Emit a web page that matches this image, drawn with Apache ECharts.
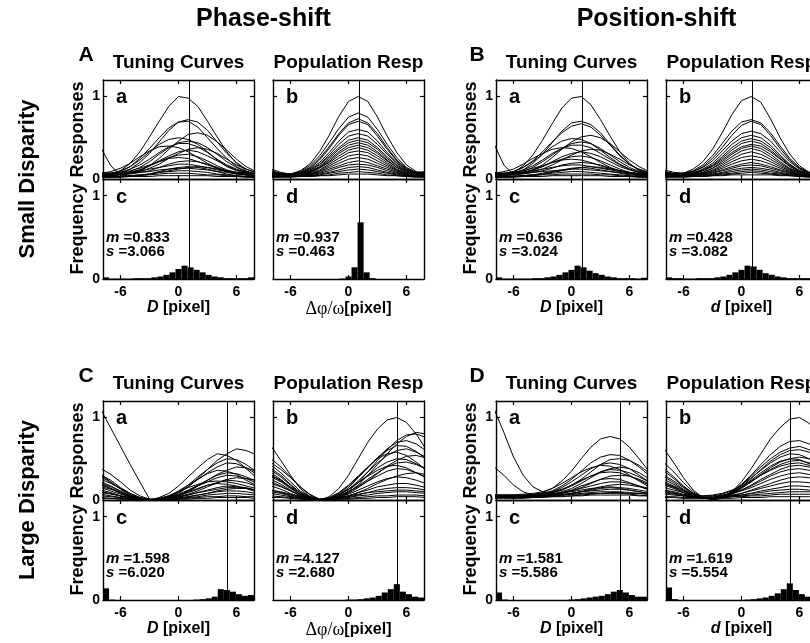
<!DOCTYPE html>
<html>
<head>
<meta charset="utf-8">
<title>Phase-shift vs Position-shift disparity</title>
<script src="https://cdn.jsdelivr.net/npm/echarts@6.0.0/dist/echarts.min.js"></script>
<style>
  html, body { margin: 0; padding: 0; background: #fff; }
  #chart { width: 810px; height: 643px; }
</style>
</head>
<body>
<div id="chart"></div>
<script>
// disparity positions where the curves are sampled [pixel]
const samplePos = [-8, -7, -6, -5, -4, -3, -2, -1, 0, 1, 2, 3, 4, 5, 6, 7, 8];
// histogram bin centres, bin width 0.625 pixel
const binCenters = [-7.5, -6.875, -6.25, -5.625, -5, -4.375, -3.75, -3.125, -2.5, -1.875, -1.25, -0.625,
  0, 0.625, 1.25, 1.875, 2.5, 3.125, 3.75, 4.375, 5, 5.625, 6.25, 6.875, 7.5];
const xTicks = [-6, 0, 6];
const yTicks = [0, 1];
const trueDisparity = [1.1, 5];

const groupTitles = ['Phase-shift', 'Position-shift'];
const rowTitles = ['Small Disparity', 'Large Disparity'];
const panelLetters = [['A', 'B'], ['C', 'D']];
const colTitles = ['Tuning Curves', 'Population Resp', 'Tuning Curves', 'Population Resp'];
const xNames = ['{i|D} [pixel]', '{g|\u0394\u03c6/\u03c9}[pixel]', '{i|D} [pixel]', '{i|d} [pixel]'];
const statM = [['0.833', '0.937', '0.636', '0.428'], ['1.598', '4.127', '1.581', '1.619']];
const statS = [['3.066', '0.463', '3.024', '3.082'], ['6.020', '2.680', '5.586', '5.554']];

// ---- small disparity ----
const phaseSmallTuning = [
  [0.03,0.05,0.1,0.19,0.33,0.51,0.7,0.88,1.0,0.98,0.88,0.7,0.51,0.33,0.19,0.1,0.05],
  [0.04,0.05,0.07,0.12,0.2,0.31,0.45,0.59,0.69,0.72,0.69,0.59,0.45,0.31,0.2,0.12,0.07],
  [0.05,0.06,0.09,0.15,0.25,0.37,0.5,0.62,0.69,0.7,0.63,0.5,0.37,0.25,0.15,0.09,0.06],
  [0.04,0.04,0.05,0.07,0.1,0.16,0.25,0.36,0.46,0.54,0.56,0.53,0.45,0.35,0.24,0.15,0.09],
  [0.06,0.07,0.1,0.15,0.23,0.33,0.42,0.48,0.5,0.48,0.42,0.33,0.23,0.15,0.1,0.07,0.05],
  [0.03,0.04,0.06,0.09,0.14,0.21,0.3,0.38,0.44,0.46,0.44,0.38,0.3,0.21,0.14,0.09,0.06],
  [0.05,0.06,0.08,0.12,0.17,0.24,0.32,0.39,0.43,0.43,0.39,0.32,0.24,0.17,0.12,0.08,0.06],
  [0.07,0.09,0.13,0.19,0.27,0.34,0.39,0.4,0.38,0.33,0.26,0.19,0.13,0.09,0.06,0.05,0.04],
  [0.05,0.05,0.06,0.07,0.09,0.13,0.18,0.25,0.31,0.36,0.38,0.36,0.31,0.24,0.17,0.12,0.08],
  [0.04,0.05,0.06,0.08,0.11,0.16,0.22,0.28,0.33,0.35,0.33,0.28,0.22,0.16,0.11,0.08,0.06],
  [0.05,0.05,0.06,0.08,0.11,0.16,0.21,0.26,0.29,0.3,0.27,0.22,0.16,0.11,0.08,0.06,0.05],
  [0.06,0.07,0.08,0.1,0.13,0.17,0.21,0.25,0.26,0.25,0.21,0.17,0.13,0.1,0.08,0.06,0.05],
  [0.04,0.04,0.05,0.06,0.08,0.1,0.14,0.18,0.21,0.22,0.21,0.18,0.14,0.1,0.07,0.05,0.04],
  [0.08,0.07,0.07,0.08,0.1,0.12,0.14,0.16,0.18,0.18,0.16,0.14,0.11,0.09,0.08,0.07,0.07],
  [0.03,0.03,0.03,0.04,0.05,0.06,0.08,0.1,0.12,0.14,0.15,0.14,0.12,0.1,0.07,0.05,0.04],
  [0.05,0.05,0.06,0.07,0.08,0.09,0.11,0.12,0.13,0.13,0.12,0.11,0.09,0.08,0.06,0.05,0.05],
  [0.02,0.02,0.03,0.04,0.05,0.06,0.08,0.09,0.1,0.1,0.09,0.08,0.06,0.05,0.04,0.03,0.02],
  [0.03,0.03,0.03,0.04,0.04,0.05,0.06,0.07,0.07,0.07,0.06,0.05,0.05,0.04,0.03,0.03,0.03],
  [0.37,0.16,0.05,0.03,0.04,0.06,0.09,0.12,0.14,0.15,0.14,0.12,0.09,0.06,0.04,0.03,0.03],
  [0.02,0.02,0.02,0.03,0.03,0.03,0.04,0.04,0.04,0.04,0.04,0.04,0.03,0.03,0.03,0.02,0.02]
];
const phaseSmallPop = [
  [0.06,0.05,0.06,0.1,0.18,0.33,0.53,0.76,0.94,1.0,0.94,0.75,0.52,0.32,0.17,0.09,0.06],
  [0.08,0.06,0.06,0.09,0.16,0.28,0.44,0.61,0.75,0.8,0.75,0.6,0.42,0.26,0.14,0.08,0.06],
  [0.05,0.04,0.05,0.08,0.14,0.25,0.39,0.55,0.68,0.73,0.68,0.55,0.38,0.23,0.13,0.07,0.05],
  [0.1,0.07,0.06,0.08,0.13,0.23,0.37,0.53,0.66,0.7,0.66,0.52,0.36,0.22,0.12,0.08,0.08],
  [0.06,0.05,0.05,0.07,0.12,0.2,0.32,0.46,0.57,0.6,0.57,0.46,0.32,0.2,0.11,0.07,0.06],
  [0.12,0.08,0.06,0.07,0.11,0.18,0.29,0.42,0.52,0.55,0.52,0.42,0.3,0.19,0.11,0.08,0.09],
  [0.05,0.04,0.04,0.06,0.1,0.17,0.27,0.38,0.47,0.5,0.47,0.38,0.27,0.17,0.1,0.06,0.05],
  [0.07,0.05,0.05,0.06,0.09,0.15,0.25,0.36,0.44,0.47,0.44,0.36,0.25,0.16,0.09,0.06,0.06],
  [0.04,0.04,0.04,0.05,0.09,0.14,0.23,0.33,0.41,0.44,0.41,0.33,0.23,0.14,0.08,0.05,0.04],
  [0.09,0.06,0.05,0.06,0.08,0.14,0.21,0.31,0.38,0.41,0.38,0.31,0.22,0.14,0.09,0.07,0.07],
  [0.05,0.04,0.04,0.05,0.08,0.13,0.2,0.28,0.35,0.38,0.35,0.28,0.2,0.12,0.07,0.05,0.05],
  [0.06,0.05,0.04,0.05,0.07,0.11,0.18,0.25,0.32,0.34,0.32,0.25,0.18,0.11,0.07,0.05,0.05],
  [0.04,0.03,0.03,0.04,0.06,0.1,0.16,0.22,0.28,0.3,0.28,0.22,0.16,0.1,0.06,0.04,0.04],
  [0.08,0.06,0.05,0.05,0.06,0.09,0.14,0.19,0.24,0.26,0.24,0.19,0.14,0.09,0.06,0.05,0.06],
  [0.03,0.03,0.03,0.04,0.05,0.08,0.12,0.16,0.2,0.22,0.2,0.16,0.12,0.08,0.05,0.04,0.03],
  [0.05,0.04,0.04,0.04,0.05,0.07,0.1,0.14,0.17,0.18,0.17,0.14,0.1,0.07,0.05,0.04,0.04],
  [0.03,0.03,0.03,0.03,0.04,0.06,0.08,0.11,0.14,0.15,0.14,0.11,0.08,0.06,0.04,0.03,0.03],
  [0.06,0.05,0.04,0.04,0.04,0.05,0.07,0.09,0.11,0.12,0.11,0.09,0.07,0.05,0.04,0.04,0.05],
  [0.02,0.02,0.02,0.03,0.03,0.04,0.05,0.07,0.08,0.09,0.08,0.07,0.05,0.04,0.03,0.02,0.02],
  [0.03,0.03,0.03,0.03,0.03,0.04,0.04,0.05,0.06,0.06,0.06,0.05,0.04,0.04,0.03,0.03,0.03]
];
const posSmallTuning = [
  [0.03,0.04,0.08,0.16,0.29,0.47,0.67,0.86,0.98,1.0,0.9,0.72,0.52,0.33,0.19,0.1,0.05],
  [0.04,0.05,0.07,0.11,0.19,0.3,0.44,0.58,0.68,0.7,0.66,0.56,0.42,0.29,0.18,0.11,0.07],
  [0.05,0.06,0.09,0.14,0.22,0.33,0.45,0.56,0.64,0.67,0.63,0.53,0.41,0.28,0.18,0.11,0.07],
  [0.04,0.04,0.05,0.07,0.11,0.17,0.26,0.36,0.45,0.51,0.53,0.5,0.43,0.33,0.23,0.15,0.09],
  [0.06,0.07,0.09,0.14,0.21,0.3,0.39,0.46,0.49,0.48,0.43,0.35,0.26,0.18,0.12,0.08,0.06],
  [0.03,0.04,0.06,0.09,0.14,0.21,0.29,0.37,0.43,0.45,0.43,0.37,0.29,0.21,0.14,0.09,0.06],
  [0.05,0.06,0.08,0.11,0.16,0.23,0.31,0.37,0.41,0.41,0.38,0.31,0.24,0.17,0.12,0.08,0.06],
  [0.07,0.09,0.12,0.18,0.25,0.31,0.36,0.38,0.37,0.33,0.27,0.2,0.14,0.1,0.07,0.05,0.04],
  [0.05,0.05,0.06,0.07,0.09,0.12,0.17,0.23,0.29,0.34,0.36,0.35,0.3,0.24,0.17,0.12,0.08],
  [0.04,0.05,0.06,0.08,0.11,0.15,0.21,0.27,0.31,0.33,0.31,0.27,0.21,0.15,0.11,0.08,0.06],
  [0.05,0.05,0.06,0.08,0.11,0.15,0.2,0.24,0.27,0.28,0.26,0.22,0.17,0.12,0.08,0.06,0.05],
  [0.06,0.07,0.08,0.1,0.13,0.16,0.2,0.23,0.24,0.23,0.2,0.16,0.13,0.1,0.08,0.06,0.05],
  [0.04,0.04,0.05,0.06,0.08,0.1,0.13,0.17,0.19,0.2,0.19,0.17,0.13,0.1,0.07,0.05,0.04],
  [0.08,0.07,0.07,0.08,0.1,0.12,0.14,0.16,0.17,0.17,0.15,0.13,0.11,0.09,0.08,0.07,0.07],
  [0.03,0.03,0.03,0.04,0.05,0.06,0.08,0.1,0.12,0.14,0.15,0.14,0.12,0.1,0.07,0.05,0.04],
  [0.05,0.05,0.06,0.07,0.08,0.09,0.1,0.11,0.12,0.12,0.11,0.1,0.09,0.08,0.06,0.05,0.05],
  [0.02,0.02,0.03,0.04,0.05,0.06,0.07,0.08,0.09,0.09,0.08,0.07,0.06,0.05,0.04,0.03,0.02],
  [0.03,0.03,0.03,0.04,0.04,0.05,0.05,0.06,0.06,0.06,0.06,0.05,0.05,0.04,0.03,0.03,0.03],
  [0.42,0.17,0.05,0.04,0.05,0.07,0.09,0.11,0.13,0.14,0.13,0.11,0.09,0.07,0.05,0.04,0.03],
  [0.02,0.02,0.02,0.03,0.03,0.03,0.04,0.04,0.04,0.04,0.04,0.04,0.03,0.03,0.03,0.02,0.02]
];
const posSmallPop = [
  [0.05,0.05,0.07,0.12,0.21,0.36,0.56,0.78,0.95,1.0,0.93,0.73,0.5,0.3,0.16,0.08,0.05],
  [0.07,0.06,0.07,0.1,0.17,0.28,0.43,0.58,0.69,0.72,0.68,0.56,0.4,0.25,0.14,0.08,0.06],
  [0.05,0.05,0.06,0.09,0.15,0.25,0.38,0.53,0.65,0.7,0.66,0.53,0.37,0.23,0.13,0.07,0.05],
  [0.09,0.07,0.07,0.09,0.14,0.22,0.34,0.46,0.55,0.58,0.55,0.46,0.33,0.21,0.12,0.08,0.07],
  [0.06,0.05,0.05,0.07,0.12,0.19,0.3,0.42,0.5,0.53,0.5,0.41,0.29,0.18,0.1,0.06,0.05],
  [0.11,0.08,0.07,0.08,0.11,0.17,0.27,0.38,0.46,0.49,0.46,0.38,0.27,0.17,0.1,0.08,0.08],
  [0.05,0.04,0.04,0.06,0.1,0.16,0.25,0.35,0.43,0.46,0.43,0.35,0.25,0.16,0.09,0.05,0.04],
  [0.07,0.06,0.06,0.07,0.1,0.15,0.23,0.32,0.39,0.42,0.4,0.33,0.24,0.15,0.09,0.06,0.06],
  [0.04,0.04,0.04,0.05,0.08,0.13,0.21,0.3,0.37,0.4,0.37,0.3,0.21,0.13,0.08,0.05,0.04],
  [0.09,0.06,0.05,0.06,0.08,0.13,0.19,0.27,0.34,0.37,0.34,0.27,0.19,0.12,0.08,0.06,0.07],
  [0.05,0.04,0.04,0.05,0.07,0.11,0.17,0.24,0.3,0.33,0.3,0.24,0.17,0.11,0.07,0.05,0.05],
  [0.06,0.05,0.04,0.05,0.07,0.1,0.15,0.21,0.26,0.28,0.26,0.21,0.15,0.1,0.06,0.05,0.05],
  [0.04,0.03,0.03,0.04,0.06,0.09,0.13,0.18,0.22,0.24,0.22,0.18,0.13,0.09,0.05,0.04,0.04],
  [0.08,0.06,0.05,0.05,0.06,0.08,0.11,0.15,0.18,0.2,0.18,0.15,0.11,0.08,0.06,0.05,0.06],
  [0.03,0.03,0.03,0.04,0.05,0.07,0.1,0.13,0.16,0.17,0.16,0.13,0.1,0.07,0.05,0.04,0.03],
  [0.05,0.04,0.04,0.04,0.05,0.06,0.08,0.11,0.13,0.14,0.13,0.11,0.08,0.06,0.05,0.04,0.04],
  [0.03,0.03,0.03,0.03,0.04,0.05,0.07,0.09,0.11,0.12,0.11,0.09,0.07,0.05,0.04,0.03,0.03],
  [0.06,0.05,0.04,0.04,0.04,0.05,0.06,0.07,0.09,0.1,0.09,0.07,0.06,0.05,0.04,0.04,0.05],
  [0.02,0.02,0.02,0.03,0.03,0.04,0.05,0.06,0.07,0.08,0.07,0.06,0.05,0.04,0.03,0.02,0.02],
  [0.03,0.03,0.03,0.03,0.03,0.04,0.04,0.05,0.05,0.05,0.05,0.05,0.04,0.04,0.03,0.03,0.03]
];

// ---- large disparity ----
const phaseLargeTuning = [
  [1.09,0.87,0.65,0.43,0.22,0.01,0.02,0.05,0.1,0.15,0.19,0.22,0.23,0.22,0.2,0.17,0.14],
  [0.38,0.31,0.22,0.12,0.05,0.01,0.0,0.03,0.08,0.16,0.26,0.37,0.48,0.56,0.62,0.6,0.55],
  [0.3,0.22,0.13,0.06,0.02,0.0,0.03,0.08,0.17,0.28,0.39,0.49,0.56,0.54,0.48,0.38,0.28],
  [0.3,0.24,0.15,0.08,0.03,0.0,0.01,0.05,0.1,0.18,0.28,0.37,0.45,0.5,0.49,0.43,0.35],
  [0.28,0.21,0.14,0.07,0.02,0.0,0.01,0.04,0.09,0.16,0.25,0.33,0.4,0.45,0.44,0.39,0.32],
  [0.25,0.2,0.14,0.08,0.03,0.01,0.0,0.02,0.05,0.1,0.17,0.24,0.31,0.36,0.4,0.39,0.35],
  [0.2,0.14,0.09,0.04,0.01,0.0,0.02,0.05,0.11,0.18,0.25,0.32,0.36,0.35,0.31,0.24,0.18],
  [0.2,0.16,0.1,0.05,0.02,0.0,0.01,0.03,0.07,0.12,0.18,0.24,0.3,0.33,0.32,0.28,0.23],
  [0.22,0.17,0.11,0.05,0.02,0.0,0.01,0.03,0.06,0.11,0.17,0.22,0.27,0.3,0.29,0.26,0.21],
  [0.16,0.13,0.09,0.05,0.02,0.0,0.0,0.01,0.04,0.07,0.11,0.16,0.21,0.25,0.27,0.26,0.24],
  [0.15,0.11,0.07,0.04,0.01,0.0,0.0,0.02,0.05,0.09,0.13,0.18,0.21,0.24,0.23,0.21,0.17],
  [0.12,0.09,0.05,0.02,0.01,0.0,0.01,0.03,0.06,0.1,0.14,0.18,0.2,0.19,0.17,0.14,0.1],
  [0.1,0.08,0.05,0.03,0.01,0.0,0.0,0.02,0.03,0.06,0.09,0.12,0.15,0.17,0.16,0.15,0.12],
  [0.09,0.07,0.05,0.03,0.01,0.0,0.0,0.01,0.02,0.04,0.06,0.08,0.11,0.13,0.14,0.14,0.12],
  [0.07,0.05,0.03,0.02,0.01,0.0,0.0,0.01,0.02,0.04,0.06,0.08,0.1,0.11,0.11,0.1,0.08],
  [0.05,0.04,0.03,0.01,0.0,0.0,0.0,0.01,0.02,0.03,0.04,0.06,0.07,0.08,0.08,0.07,0.06],
  [0.03,0.02,0.02,0.01,0.0,0.0,0.0,0.0,0.01,0.02,0.03,0.04,0.04,0.05,0.05,0.04,0.04],
  [0.18,0.14,0.08,0.04,0.01,0.0,0.01,0.02,0.04,0.06,0.09,0.11,0.13,0.15,0.15,0.14,0.12],
  [0.02,0.02,0.01,0.01,0.0,0.0,0.0,0.0,0.01,0.01,0.02,0.02,0.03,0.03,0.03,0.03,0.02]
];
const phaseLargePop = [
  [0.65,0.48,0.3,0.14,0.04,0.0,0.04,0.14,0.3,0.5,0.7,0.86,0.97,1.0,0.94,0.8,0.62],
  [0.45,0.37,0.27,0.16,0.07,0.01,0.0,0.03,0.09,0.18,0.3,0.43,0.56,0.68,0.77,0.82,0.8],
  [0.5,0.4,0.28,0.16,0.06,0.01,0.01,0.04,0.11,0.21,0.34,0.48,0.61,0.72,0.79,0.8,0.76],
  [0.42,0.33,0.22,0.11,0.04,0.0,0.02,0.07,0.15,0.27,0.39,0.51,0.62,0.7,0.72,0.68,0.6],
  [0.38,0.3,0.19,0.09,0.03,0.0,0.02,0.08,0.17,0.28,0.4,0.51,0.6,0.66,0.65,0.59,0.5],
  [0.36,0.28,0.18,0.09,0.03,0.0,0.02,0.06,0.13,0.23,0.34,0.45,0.54,0.6,0.62,0.58,0.52],
  [0.33,0.25,0.15,0.07,0.02,0.0,0.03,0.09,0.18,0.29,0.4,0.5,0.56,0.58,0.54,0.46,0.37],
  [0.3,0.24,0.16,0.09,0.04,0.01,0.01,0.03,0.08,0.15,0.23,0.32,0.41,0.48,0.53,0.54,0.51],
  [0.3,0.23,0.15,0.07,0.02,0.0,0.02,0.06,0.13,0.21,0.3,0.39,0.46,0.5,0.49,0.44,0.37],
  [0.28,0.22,0.14,0.07,0.02,0.0,0.01,0.05,0.1,0.17,0.25,0.33,0.4,0.45,0.46,0.43,0.38],
  [0.25,0.19,0.12,0.05,0.02,0.0,0.02,0.06,0.13,0.21,0.29,0.36,0.41,0.42,0.39,0.33,0.27],
  [0.22,0.17,0.11,0.05,0.02,0.0,0.01,0.05,0.1,0.16,0.23,0.29,0.35,0.38,0.37,0.33,0.28],
  [0.2,0.16,0.11,0.06,0.02,0.0,0.0,0.02,0.05,0.09,0.14,0.2,0.25,0.29,0.32,0.33,0.31],
  [0.17,0.13,0.08,0.04,0.01,0.0,0.01,0.04,0.07,0.12,0.17,0.22,0.26,0.28,0.27,0.24,0.2],
  [0.12,0.09,0.06,0.03,0.01,0.0,0.01,0.03,0.05,0.09,0.12,0.16,0.18,0.2,0.2,0.18,0.15],
  [0.1,0.08,0.05,0.02,0.01,0.0,0.01,0.02,0.04,0.06,0.09,0.12,0.14,0.15,0.15,0.14,0.12],
  [0.12,0.1,0.07,0.04,0.02,0.01,0.02,0.03,0.05,0.07,0.09,0.1,0.11,0.12,0.12,0.11,0.1],
  [0.08,0.06,0.04,0.02,0.01,0.0,0.01,0.02,0.03,0.05,0.06,0.08,0.09,0.1,0.1,0.09,0.08],
  [0.05,0.04,0.03,0.02,0.01,0.01,0.01,0.01,0.02,0.03,0.04,0.05,0.05,0.06,0.06,0.06,0.05],
  [0.03,0.03,0.02,0.01,0.0,0.0,0.0,0.01,0.01,0.02,0.02,0.03,0.03,0.04,0.04,0.04,0.03]
];
const posLargeTuning = [
  [1.1,0.82,0.52,0.3,0.16,0.1,0.08,0.07,0.07,0.07,0.08,0.08,0.09,0.09,0.08,0.08,0.07],
  [0.04,0.04,0.04,0.05,0.06,0.09,0.14,0.23,0.35,0.5,0.64,0.74,0.77,0.74,0.64,0.5,0.35],
  [0.03,0.03,0.04,0.05,0.06,0.08,0.11,0.17,0.25,0.35,0.45,0.52,0.55,0.54,0.48,0.4,0.3],
  [0.05,0.05,0.05,0.05,0.06,0.07,0.09,0.12,0.18,0.25,0.34,0.43,0.49,0.5,0.48,0.42,0.33],
  [0.04,0.04,0.04,0.05,0.06,0.07,0.1,0.15,0.22,0.3,0.38,0.43,0.45,0.43,0.38,0.3,0.22],
  [0.06,0.06,0.06,0.07,0.08,0.1,0.14,0.2,0.27,0.34,0.39,0.42,0.41,0.37,0.3,0.23,0.16],
  [0.03,0.03,0.03,0.03,0.04,0.05,0.07,0.1,0.14,0.2,0.27,0.34,0.38,0.4,0.38,0.33,0.26],
  [0.05,0.05,0.05,0.05,0.06,0.07,0.09,0.12,0.17,0.23,0.29,0.34,0.37,0.36,0.33,0.28,0.22],
  [0.06,0.06,0.06,0.06,0.07,0.08,0.1,0.13,0.18,0.24,0.29,0.33,0.34,0.33,0.29,0.24,0.18],
  [0.04,0.04,0.04,0.04,0.04,0.05,0.06,0.08,0.11,0.15,0.2,0.25,0.29,0.3,0.29,0.25,0.2],
  [0.03,0.03,0.03,0.04,0.04,0.05,0.07,0.09,0.12,0.17,0.21,0.25,0.26,0.25,0.21,0.17,0.12],
  [0.05,0.05,0.05,0.05,0.06,0.06,0.07,0.09,0.11,0.14,0.17,0.2,0.22,0.22,0.2,0.17,0.14],
  [0.03,0.03,0.03,0.03,0.03,0.04,0.05,0.06,0.08,0.1,0.13,0.16,0.18,0.19,0.18,0.16,0.13],
  [0.06,0.06,0.06,0.06,0.06,0.07,0.08,0.09,0.1,0.12,0.14,0.15,0.16,0.15,0.14,0.12,0.1],
  [0.04,0.04,0.04,0.04,0.04,0.05,0.06,0.07,0.08,0.1,0.11,0.12,0.13,0.13,0.12,0.1,0.08],
  [0.05,0.05,0.05,0.05,0.05,0.05,0.06,0.06,0.07,0.08,0.09,0.1,0.1,0.1,0.09,0.08,0.07],
  [0.02,0.02,0.02,0.02,0.03,0.03,0.04,0.04,0.05,0.06,0.07,0.08,0.08,0.08,0.07,0.06,0.05],
  [0.04,0.04,0.04,0.04,0.04,0.04,0.04,0.05,0.05,0.05,0.06,0.06,0.06,0.06,0.06,0.05,0.05],
  [0.4,0.3,0.18,0.1,0.06,0.05,0.05,0.06,0.08,0.1,0.12,0.14,0.15,0.14,0.12,0.1,0.08]
];
const posLargePop = [
  [0.35,0.26,0.16,0.08,0.03,0.01,0.03,0.1,0.22,0.38,0.56,0.74,0.88,0.98,1.0,0.93,0.8],
  [0.62,0.45,0.27,0.12,0.03,0.0,0.02,0.07,0.15,0.24,0.33,0.41,0.47,0.5,0.49,0.44,0.37],
  [0.3,0.23,0.15,0.08,0.03,0.02,0.04,0.1,0.19,0.3,0.43,0.55,0.65,0.71,0.72,0.68,0.6],
  [0.45,0.34,0.21,0.1,0.03,0.01,0.03,0.09,0.18,0.29,0.4,0.5,0.58,0.63,0.65,0.61,0.54],
  [0.25,0.19,0.12,0.06,0.03,0.02,0.04,0.09,0.16,0.26,0.37,0.47,0.55,0.6,0.61,0.58,0.51],
  [0.2,0.16,0.11,0.07,0.05,0.05,0.07,0.11,0.18,0.27,0.36,0.45,0.52,0.56,0.55,0.5,0.43],
  [0.38,0.28,0.17,0.08,0.03,0.02,0.04,0.08,0.14,0.22,0.31,0.39,0.46,0.5,0.52,0.5,0.45],
  [0.22,0.17,0.11,0.06,0.03,0.03,0.05,0.09,0.15,0.22,0.3,0.37,0.43,0.47,0.48,0.45,0.4],
  [0.15,0.12,0.09,0.06,0.05,0.06,0.08,0.12,0.17,0.23,0.3,0.36,0.41,0.44,0.45,0.42,0.37],
  [0.28,0.21,0.13,0.07,0.03,0.02,0.03,0.07,0.12,0.18,0.25,0.31,0.37,0.41,0.42,0.4,0.35],
  [0.18,0.14,0.09,0.05,0.03,0.03,0.05,0.08,0.12,0.17,0.23,0.29,0.34,0.37,0.38,0.36,0.31],
  [0.12,0.1,0.07,0.05,0.04,0.04,0.06,0.08,0.11,0.15,0.2,0.25,0.29,0.32,0.33,0.31,0.28],
  [0.2,0.15,0.09,0.05,0.02,0.02,0.03,0.05,0.08,0.12,0.16,0.2,0.24,0.27,0.28,0.27,0.24],
  [0.1,0.08,0.06,0.04,0.03,0.03,0.04,0.06,0.08,0.11,0.14,0.17,0.2,0.22,0.22,0.21,0.18],
  [0.12,0.09,0.06,0.04,0.02,0.02,0.03,0.04,0.06,0.08,0.11,0.13,0.15,0.17,0.17,0.16,0.14],
  [0.07,0.06,0.05,0.04,0.03,0.03,0.04,0.05,0.06,0.08,0.09,0.11,0.12,0.13,0.13,0.12,0.11],
  [0.09,0.07,0.05,0.03,0.02,0.02,0.03,0.04,0.05,0.06,0.07,0.08,0.09,0.1,0.1,0.1,0.09],
  [0.04,0.04,0.03,0.03,0.03,0.03,0.03,0.04,0.04,0.05,0.05,0.06,0.07,0.07,0.07,0.07,0.06],
  [0.03,0.03,0.02,0.02,0.02,0.02,0.02,0.02,0.03,0.03,0.03,0.04,0.04,0.04,0.04,0.04,0.04]
];

// ---- preferred-disparity histograms (frequency per bin) ----
const phaseSmallTuningHist = [0.02,0.005,0.005,0.005,0.005,0.01,0.01,0.01,0.02,0.03,0.05,0.08,0.12,0.16,0.14,0.11,0.08,0.05,0.03,0.02,0.01,0.01,0.01,0.01,0.02];
const phaseSmallPopHist = [0,0,0,0,0,0,0,0,0,0,0,0.005,0.03,0.14,0.68,0.08,0.01,0,0,0,0,0,0,0,0];
const posSmallTuningHist = [0.02,0.005,0.005,0.005,0.005,0.005,0.01,0.01,0.02,0.03,0.05,0.08,0.11,0.16,0.14,0.1,0.07,0.05,0.03,0.02,0.01,0.01,0.01,0.005,0.015];
const posSmallPopHist = [0.02,0.01,0.01,0.005,0.005,0.01,0.01,0.01,0.02,0.03,0.05,0.08,0.11,0.16,0.15,0.11,0.07,0.05,0.03,0.02,0.01,0.01,0.01,0.01,0.01];
const phaseLargeTuningHist = [0.14,0.005,0,0,0,0,0,0,0,0,0,0,0,0,0,0.005,0.01,0.02,0.04,0.13,0.12,0.1,0.07,0.05,0.06];
const phaseLargePopHist = [0,0,0,0,0,0,0,0,0,0,0,0,0.005,0.005,0.01,0.02,0.03,0.05,0.09,0.13,0.19,0.1,0.07,0.04,0.03];
const posLargeTuningHist = [0.09,0.005,0,0,0,0,0,0,0,0,0,0,0.005,0.01,0.02,0.03,0.04,0.05,0.07,0.1,0.12,0.09,0.06,0.04,0.04];
const posLargePopHist = [0.15,0.01,0,0,0,0,0,0,0,0,0,0,0,0.005,0.01,0.02,0.03,0.05,0.08,0.13,0.2,0.12,0.07,0.04,0.03];

const curveSets = [
  [phaseSmallTuning, phaseSmallPop, posSmallTuning, posSmallPop],
  [phaseLargeTuning, phaseLargePop, posLargeTuning, posLargePop]
];
const histSets = [
  [phaseSmallTuningHist, phaseSmallPopHist, posSmallTuningHist, posSmallPopHist],
  [phaseLargeTuningHist, phaseLargePopHist, posLargeTuningHist, posLargePopHist]
];

// ---- layout ----
const FONT = "'Liberation Sans', Arial, Helvetica, sans-serif";
const X_MIN = -7.8125, X_MAX = 7.8125;
const colLeft = [103, 273, 496, 666];
const panelW = 151;
const rowTop = [80, 401];
const curveH = 99;
const histH = 100;

const grids = [], xAxes = [], yAxes = [], series = [], graphics = [];

function boldText(size) {
  return { color: '#000', fontSize: size, fontWeight: 'bold', fontFamily: FONT };
}

function addPanel(left, top, height, opt) {
  const gi = grids.length;
  grids.push({ left: left, top: top, width: panelW, height: height, containLabel: false, outerBoundsMode: 'none' });
  const xi = xAxes.length, yi = yAxes.length;
  const line = { show: true, onZero: false, lineStyle: { color: '#000', width: 1.4 } };
  const tick = { show: true, inside: true, length: 4, lineStyle: { color: '#000', width: 1.2 } };
  ['bottom', 'top'].forEach(function (pos, k) {
    xAxes.push({
      type: 'value', gridIndex: gi, position: pos, min: X_MIN, max: X_MAX,
      axisLine: line,
      axisTick: Object.assign({ customValues: xTicks }, tick),
      axisLabel: Object.assign({ show: k === 0 && !!opt.xName, customValues: xTicks, margin: 6 }, boldText(14)),
      splitLine: { show: false },
      name: k === 0 && opt.xName ? opt.xName : '',
      nameLocation: 'middle', nameGap: 20,
      nameTextStyle: Object.assign(boldText(16), {
        rich: {
          i: { fontSize: 16, fontWeight: 'bold', fontStyle: 'italic', fontFamily: FONT, color: '#000' },
          g: { fontSize: 18, fontWeight: 'normal', fontFamily: "'Liberation Serif', 'DejaVu Serif', serif", color: '#000' }
        }
      })
    });
  });
  ['left', 'right'].forEach(function (pos, k) {
    yAxes.push({
      type: 'value', gridIndex: gi, position: pos, min: 0, max: 1.2,
      axisLine: line,
      axisTick: Object.assign({ customValues: [1] }, tick),
      axisLabel: Object.assign({ show: k === 0 && opt.yLabels, customValues: yTicks, margin: 3 }, boldText(14)),
      splitLine: { show: false },
      name: k === 0 && opt.yName ? opt.yName : '',
      nameLocation: 'middle', nameGap: 16, nameRotate: 90,
      nameTextStyle: boldText(18)
    });
  });
  return { xi: xi, yi: yi };
}

// free text; align = 'center' | 'left'
function addText(x, y, str, size, align, extra) {
  graphics.push(Object.assign({
    type: 'text', x: x, y: y, silent: true, z: 100,
    style: {
      text: str, fill: '#000', fontSize: size, fontWeight: 'bold', fontFamily: FONT,
      align: align, verticalAlign: 'middle', textAlign: align, textVerticalAlign: 'middle',
      rich: { i: { fontSize: size, fontWeight: 'bold', fontStyle: 'italic', fontFamily: FONT, fill: '#000' } }
    }
  }, extra || {}));
}

function vline(x) {
  return {
    silent: true, symbol: 'none', animation: false,
    label: { show: false },
    lineStyle: { color: '#000', width: 1, type: 'solid' },
    data: [{ xAxis: x }]
  };
}

for (let r = 0; r < 2; r++) {
  for (let c = 0; c < 4; c++) {
    const left = colLeft[c];
    const top = rowTop[r];
    const histTop = top + curveH;
    const firstCol = c % 2 === 0;

    // upper panel: tuning curves / population responses
    const up = addPanel(left, top, curveH, { yLabels: firstCol, yName: firstCol ? 'Responses' : '' });
    curveSets[r][c].forEach(function (curve, k) {
      series.push({
        type: 'line', xAxisIndex: up.xi, yAxisIndex: up.yi,
        data: samplePos.map(function (x, i) { return [x, curve[i]]; }),
        showSymbol: false, silent: true, clip: true,
        lineStyle: { color: '#000', width: 1 },
        markLine: k === 0 ? vline(trueDisparity[r]) : undefined
      });
    });

    // lower panel: histogram of preferred disparities
    const lo = addPanel(left, histTop, histH, { yLabels: firstCol, yName: firstCol ? 'Frequency' : '', xName: xNames[c] });
    series.push({
      type: 'bar', xAxisIndex: lo.xi, yAxisIndex: lo.yi,
      data: binCenters.map(function (x, i) { return [x, histSets[r][c][i]]; }),
      barWidth: '100%', silent: true,
      itemStyle: { color: '#000' },
      markLine: vline(trueDisparity[r])
    });

    addText(left + panelW / 2, top - 17, colTitles[c], 19, 'center');
    addText(left + 13, top + 17, firstCol ? 'a' : 'b', 20, 'left');
    addText(left + 13, histTop + 18, firstCol ? 'c' : 'd', 20, 'left');
    addText(left + 3, histTop + 59, '{i|m} =' + statM[r][c], 15, 'left');
    addText(left + 3, histTop + 73, '{i|s} =' + statS[r][c], 15, 'left');
  }
  addText(28, rowTop[r] + curveH, rowTitles[r], 22, 'center', { rotation: Math.PI / 2 });
  addText(colLeft[0] - 17, rowTop[r] - 25, panelLetters[r][0], 21, 'center');
  addText(colLeft[2] - 19, rowTop[r] - 25, panelLetters[r][1], 21, 'center');
}
addText((colLeft[0] + colLeft[1] + panelW) / 2, 19, groupTitles[0], 25, 'center');
addText((colLeft[2] + colLeft[3] + panelW) / 2, 19, groupTitles[1], 25, 'center');

const chart = echarts.init(document.getElementById('chart'), null, { renderer: 'canvas' });
chart.setOption({
  animation: false,
  backgroundColor: '#fff',
  grid: grids,
  xAxis: xAxes,
  yAxis: yAxes,
  series: series,
  graphic: { elements: graphics }
});
</script>
</body>
</html>
